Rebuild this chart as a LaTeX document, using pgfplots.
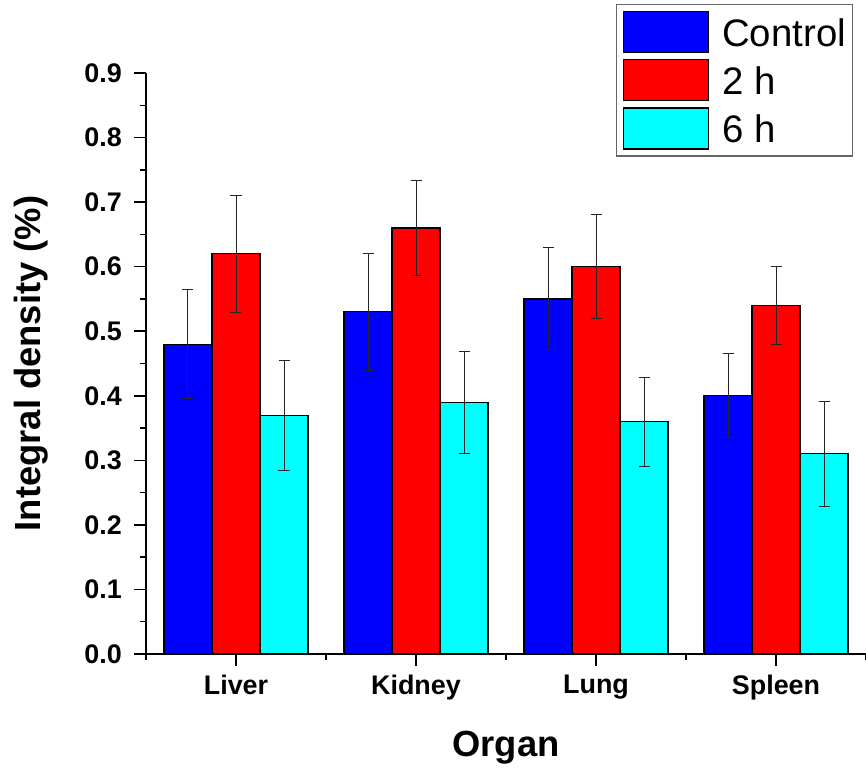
\documentclass[border=0pt]{standalone}
\usepackage{pgfplots}
\usepackage{pgfplotstable}
\pgfplotsset{compat=1.18}
\usepackage{fontspec}
\setmainfont{Liberation Sans}

% Organ, mean and error for each time point
\pgfplotstableread{
x ctrl ctrlerr h2 h2err h6 h6err
0 0.48 0.084 0.62 0.091 0.37 0.085
1 0.53 0.091 0.66 0.074 0.39 0.079
2 0.55 0.079 0.60 0.081 0.36 0.069
3 0.40 0.065 0.54 0.061 0.31 0.081
}\organdata

\definecolor{ctrlblue}{RGB}{0,0,255}
\definecolor{hred}{RGB}{255,0,0}
\definecolor{hcyan}{RGB}{0,255,255}

\pgfplotsset{
  errstyle/.style={
    error bars/.cd, y dir=both, y explicit,
    error bar style={line width=1bp, black!85},
    error mark options={rotate=90, mark size=5.5bp, line width=1bp, black!85}
  }
}

\begin{document}
\begin{tikzpicture}
\begin{axis}[
  name=ax,
  scale only axis, width=720bp, height=581bp,
  xmin=-0.5, xmax=3.5, ymin=0, ymax=0.9,
  ybar=0pt, bar width=48bp,
  axis x line*=bottom, axis y line*=left,
  axis line style={line width=1.5bp, black},
  xtick={0,1,2,3}, xticklabels={Liver,Kidney,Lung,Spleen},
  minor xtick={-0.5,0.5,1.5,2.5,3.5},
  ytick={0,0.1,0.2,0.3,0.4,0.5,0.6,0.7,0.8,0.9},
  minor ytick={0.05,0.15,0.25,0.35,0.45,0.55,0.65,0.75,0.85},
  tick align=outside, major tick length=12bp, minor tick length=6bp,
  tick style={line width=1.5bp, black},
  /pgf/number format/assume math mode=true,
  ticklabel style={font=\bfseries\fontsize{27}{30}\selectfont, inner sep=0pt},
  yticklabel style={/pgf/number format/fixed, /pgf/number format/fixed zerofill,
    /pgf/number format/precision=1, anchor=east, xshift=-12bp},
  xticklabel style={anchor=north, yshift=-9bp},
  xlabel={Organ}, ylabel={Integral density (\%)},
  label style={font=\bfseries\fontsize{36.5}{42}\selectfont},
  ylabel style={at={(axis description cs:-0.183,0.5)}, anchor=north, inner sep=0pt},
  xlabel style={at={(axis description cs:0.5,-0.1756)}, anchor=base, inner sep=0pt},
  legend image code/.code={\draw[#1] (0bp,-20.5bp) rectangle (85bp,20.5bp);},
  legend cell align=left,
  legend style={at={(rel axis cs:0.982,1.119)}, anchor=north east,
    draw=black!60, line width=1.3bp, fill=white,
    font=\fontsize{38.5}{44}\selectfont,
    inner xsep=6.5bp, inner ysep=6.5bp, row sep=6bp, column sep=13bp,
    nodes={inner sep=0pt, text height=28bp, text depth=0bp}},
  clip=false,
]
\addplot[fill=ctrlblue, draw=black, line width=1.2bp, errstyle]
  table[x=x, y=ctrl, y error=ctrlerr] {\organdata};
\addplot[fill=hred, draw=black, line width=1.2bp, errstyle]
  table[x=x, y=h2, y error=h2err] {\organdata};
\addplot[fill=hcyan, draw=black, line width=1.2bp, errstyle]
  table[x=x, y=h6, y error=h6err] {\organdata};
\legend{Control,2 h,6 h}
\end{axis}
\pgfresetboundingbox
\path ([shift={(-146bp,-115bp)}]ax.south west) rectangle ([shift={(0bp,73bp)}]ax.north east);
\end{tikzpicture}
\end{document}
